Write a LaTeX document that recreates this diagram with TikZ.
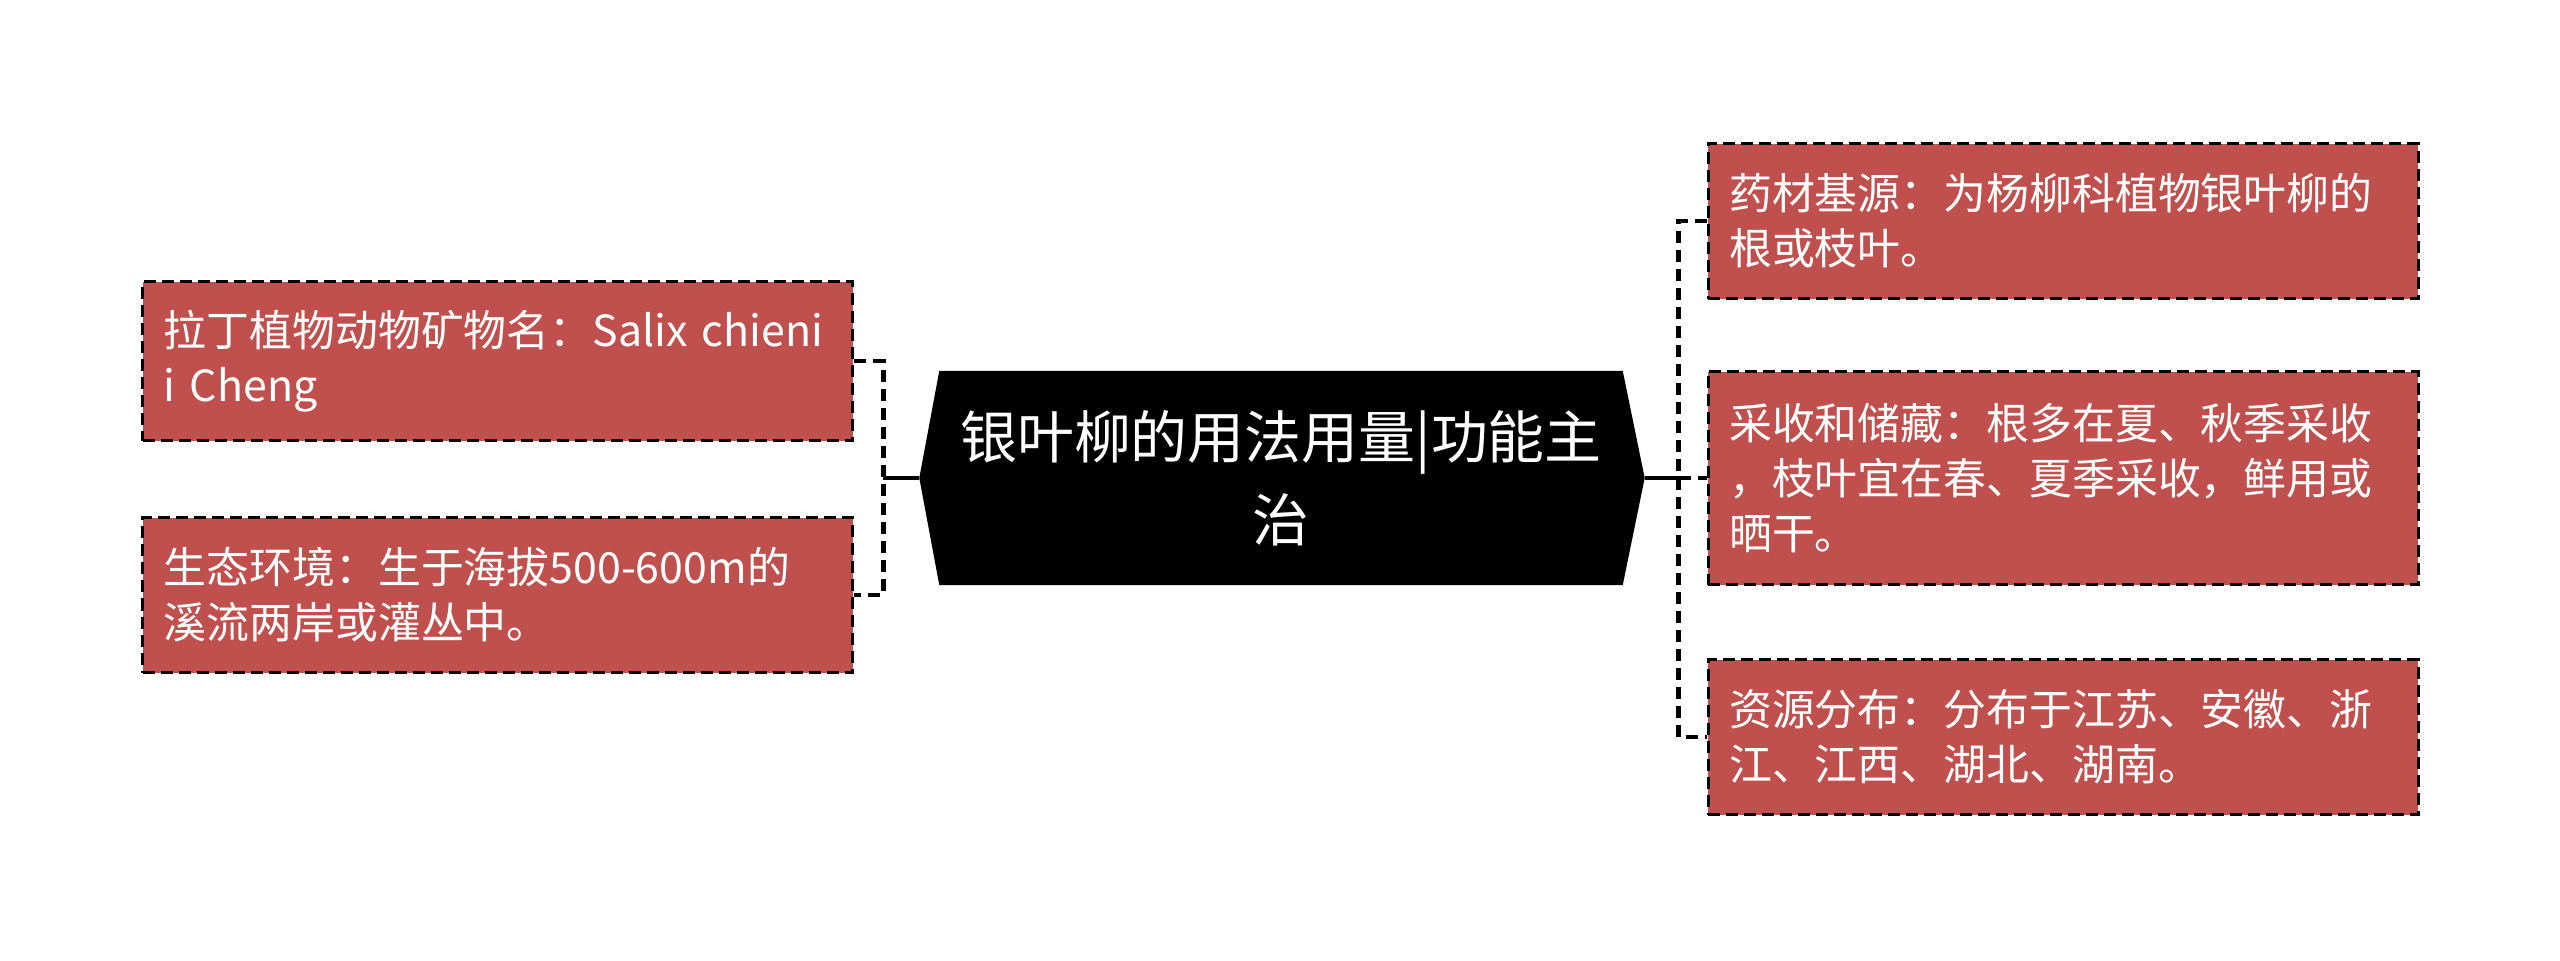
\documentclass[tikz,border=0pt]{standalone}
\usepackage{fontspec}
\setmainfont{Noto Sans CJK SC}
\usepackage{xcolor}
\usetikzlibrary{positioning,calc,backgrounds}
\definecolor{leafred}{HTML}{C0504D}

\begin{document}
\begin{tikzpicture}[
  hub/.style={inner sep=0pt, minimum width=68.2mm, minimum height=21.3mm, align=center, text=white,
    font=\fontsize{16.2pt}{23.6pt}\selectfont},
  leaf/.style={draw, fill=leafred, dash pattern=on 1.2mm off 0.6mm, line width=0.3mm, text=white,
    align=left, text width=66.8mm, inner xsep=2.1mm, inner ysep=2.85mm, minimum height=15.5mm,
    font=\fontsize{12.2pt}{15.6pt}\selectfont},
  link/.style={draw, line width=0.45mm, dash pattern=on 1.2mm off 0.7mm},
  stem/.style={draw, line width=0.45mm}]
\useasboundingbox (0,0) rectangle (256mm,96mm);
% central topic
\node[hub] (hub) at (128.1mm,48.2mm) {银叶柳的用法用量|功能主\\治};
\begin{scope}[on background layer]
  \fill (hub.north west) -- (hub.north east) -- ([xshift=2.2mm]hub.east) -- (hub.south east)
    -- (hub.south west) -- ([xshift=-2mm]hub.west) -- cycle;
\end{scope}
% left branch
\node[leaf, above left=3.6mm and 8.5mm of hub.west, anchor=south east] (lat) {拉丁植物动物矿物名：Salix chieni\\i Cheng};
\node[leaf, below=7.4mm of lat] (eco) {生态环境：生于海拔500-600m的\\溪流两岸或灌丛中。};
% right branch
\node[leaf, right=8.4mm of hub.east, minimum height=21.3mm] (harv) {采收和储藏：根多在夏、秋季采收\\，枝叶宜在春、夏季采收，鲜用或\\晒干。};
\node[leaf, above=7.3mm of harv, yshift=-0.3mm] (src) {药材基源：为杨柳科植物银叶柳的\\根或枝叶。};
\node[leaf, below=7.5mm of harv, yshift=0.3mm] (dist) {资源分布：分布于江苏、安徽、浙\\江、江西、湖北、湖南。};

\coordinate (lj) at ($(hub.west)+(-5.6mm,0)$);
\coordinate (rj) at ($(hub.east)+(5.6mm,0)$);
\draw[link] (lat.east) -| (lj) |- (eco.east);
\draw[stem] ([xshift=-2mm]hub.west) -- (lj);
\draw[link] (src.west) -| (rj) |- (dist.west);
\draw[stem] ([xshift=2.2mm]hub.east) -- (rj);
\draw[link] (rj) -- (harv.west);
\end{tikzpicture}
\end{document}
